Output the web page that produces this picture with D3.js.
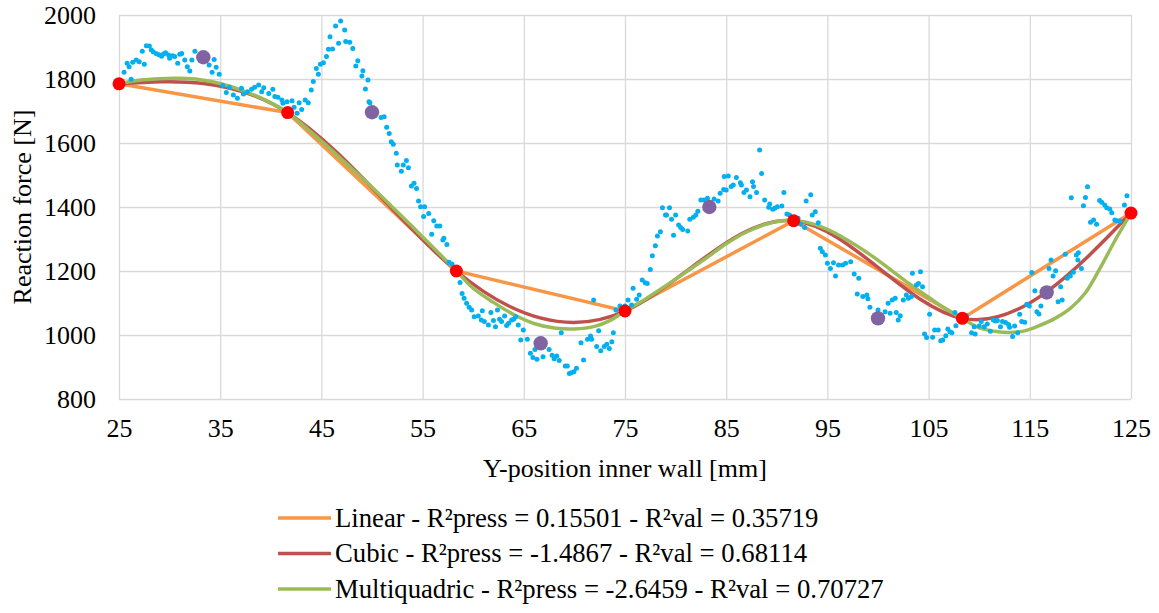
<!DOCTYPE html>
<html>
<head>
<meta charset="utf-8" />
<title>Reaction force vs Y-position</title>
<script src="https://cdnjs.cloudflare.com/ajax/libs/d3/7.8.5/d3.min.js"></script>
<style>
html, body {
	margin: 0;
	background: #fff;
}
svg text {
	font-family: "Liberation Serif", "Times New Roman", "DejaVu Serif", serif !important;
	fill: #000;
}
.grid line { stroke: #d9d9d9; stroke-width: 1.3px; }
.grid path { display: none; }
</style>
</head>
<body>
<svg id="chart" width="1159" height="613"></svg>
<script>

var FONT = '"Liberation Serif", "Times New Roman", serif';

// ticks
var xTicks = [25, 35, 45, 55, 65, 75, 85, 95, 105, 115, 125];
var yTicks = [800, 1000, 1200, 1400, 1600, 1800, 2000];

// training nodes (red) and validation points (purple)
var nodeX = [25, 41.667, 58.333, 75, 91.667, 108.333, 125];
var nodeY = [1785, 1695, 1200, 1075, 1357, 1052, 1381];
var valX = [33.333, 50, 66.667, 83.333, 100, 116.667];
var valY = [1868, 1696, 974, 1400, 1052, 1133];

// multiquadric surrogate
var mqX = [25, 27, 29, 31, 33, 35, 37, 39, 41.667, 44, 46, 48, 50, 52, 54, 56, 58.333,
  60, 62, 64, 66, 68, 70, 72, 73.5, 75, 77, 79, 81, 83, 85, 87, 89, 90.5, 91.667,
  93, 95, 97, 99, 101, 103, 105, 106.5, 108.333, 110, 111.5, 113, 114.5, 116, 117.5,
  119, 120.5, 122, 123.5, 125];
var mqY = [1785, 1796, 1801, 1802, 1798, 1786, 1766, 1741, 1695, 1634, 1578, 1520, 1462, 1400, 1338, 1275, 1200,
  1146, 1102, 1064, 1036, 1022, 1019, 1027, 1045, 1075, 1112, 1153, 1196, 1240, 1285, 1322, 1347, 1357, 1357,
  1352, 1330, 1296, 1256, 1210, 1162, 1118, 1085, 1052, 1022, 1012, 1008, 1013, 1030, 1052,
  1083, 1132, 1212, 1300, 1381];

// measured reaction force (blue dots)
var measured = [
  [25.5,1821],[25.8,1849],[26.0,1838],[26.2,1799],[26.35,1852],[26.7,1859],[27.0,1854],[27.3,1887],[27.5,1846],
  [27.7,1904],[28.0,1903],[28.2,1891],[28.4,1884],[28.7,1879],[28.95,1876],[29.2,1871],[29.4,1878],[29.6,1882],
  [29.9,1875],[30.0,1865],[30.3,1873],[30.5,1870],[30.8,1849],[31.0,1877],[31.2,1880],[31.5,1859],[31.75,1838],
  [32.0,1825],[32.2,1859],[32.5,1887],[33.0,1875],[33.6,1862],[33.9,1844],[34.2,1821],[34.4,1861],[34.6,1837],
  [34.9,1815],[35.25,1780],[35.6,1758],[35.9,1774],[36.3,1750],[36.7,1740],[37.1,1771],[37.3,1753],[37.7,1760],
  [38.1,1768],[38.4,1774],[38.8,1781],[39.1,1760],[39.3,1773],[39.8,1755],[40.2,1768],[40.4,1745],[40.7,1743],
  [41.1,1734],[41.2,1724],[41.6,1729],[42.1,1732],[42.3,1712],[42.6,1693],[42.8,1726],[43.05,1705],[43.4,1734],
  [43.7,1726],[44.0,1766],[44.2,1792],[44.5,1833],[44.7,1815],[44.9,1846],[45.2,1851],[45.5,1870],[45.7,1893],
  [45.85,1932],[46.1,1894],[46.4,1966],[46.7,1912],[46.9,1981],[47.3,1953],[47.4,1917],[47.8,1915],[48.1,1895],
  [48.4,1841],[48.6,1857],[49.0,1809],[49.1,1826],[49.35,1769],[49.6,1797],[49.7,1729],[49.8,1726],
  [50.9,1680],[51.2,1682],[51.45,1649],[51.7,1630],[51.9,1604],[52.1,1596],[52.4,1568],[52.5,1531],[52.9,1512],
  [53.1,1531],[53.4,1545],[53.6,1523],[53.9,1466],[54.15,1474],[54.4,1458],[54.6,1419],[54.8,1401],[55.1,1370],
  [55.2,1401],[55.6,1380],[55.9,1315],[56.1,1357],[56.4,1341],[56.7,1341],[57.0,1297],[57.1,1302],[57.4,1283],
  [57.6,1227],[57.9,1222],[58.7,1164],[58.9,1130],[59.1,1115],[59.35,1099],[59.6,1087],[59.85,1078],[60.1,1057],
  [60.5,1059],[60.8,1047],[60.9,1076],[61.1,1042],[61.5,1031],[61.75,1070],[62.0,1045],[62.2,1026],[62.4,1078],
  [62.6,1049],[62.8,1042],[63.1,1059],[63.3,1030],[63.5,1037],[63.8,1047],[64.0,1049],[64.2,1057],[64.45,1031],
  [64.7,984],[64.95,1016],[65.35,987],[65.65,943],[65.9,930],[66.1,955],[66.3,924],[66.9,932],[67.5,955],
  [67.8,937],[68.0,926],[68.25,934],[68.5,920],[68.7,1007],[69.1,903],[69.3,903],[69.5,880],[69.7,882],
  [69.95,885],[70.2,896],[70.65,976],[70.9,922],[71.3,987],[71.6,997],[71.7,987],[71.9,1109],[72.2,964],
  [72.4,1013],[72.6,951],[72.95,964],[73.2,971],[73.45,958],[73.7,979],[73.85,1007],[74.1,1078],[74.5,1091],
  [75.0,1091],[75.3,1109],[75.65,1094],[75.8,1146],[76.15,1112],[76.4,1125],[76.7,1172],[77.0,1163],[77.2,1161],
  [77.5,1205],[77.7,1248],[78.0,1279],[78.2,1309],[78.5,1323],[78.7,1398],[79.0,1375],[79.1,1375],[79.4,1398],
  [79.6,1362],[79.8,1312],[80.0,1375],[80.3,1344],[80.5,1336],[80.7,1330],[81.2,1325],[81.4,1362],[81.75,1368],
  [82.0,1375],[82.2,1387],[82.5,1422],[82.8,1422],[83.15,1427],[83.8,1425],[84.2,1419],[84.4,1443],[84.75,1455],
  [84.8,1495],[85.0,1453],[85.2,1497],[85.5,1464],[85.7,1469],[86.0,1492],[86.4,1476],[86.5,1469],[86.75,1445],
  [87.0,1453],[87.35,1432],[87.6,1479],[87.7,1464],[88.0,1445],[88.3,1578],[88.5,1505],[88.8,1422],[89.2,1399],
  [89.3,1409],[89.6,1393],[89.8,1396],[90.05,1401],[90.5,1403],[90.7,1445],[91.0,1378],[91.25,1375],[92.1,1365],
  [92.35,1347],[92.75,1336],[92.9,1419],[93.35,1438],[93.5,1375],[93.8,1385],[94.1,1351],[94.3,1271],[94.5,1260],
  [94.8,1250],[95.0,1224],[95.3,1208],[95.6,1226],[95.8,1184],[96.1,1219],[96.5,1219],[96.8,1224],[97.3,1229],
  [97.65,1191],[97.95,1128],[98.1,1177],[98.5,1120],[98.9,1125],[99.0,1113],[99.2,1087],
  [100.0,1078],[100.7,1073],[101.0,1099],[101.2,1068],[101.4,1109],[101.7,1115],[101.8,1070],[102.0,1047],
  [102.2,1060],[102.5,1109],[102.8,1125],[103.0,1115],[103.3,1120],[103.4,1193],[103.8,1156],[104.0,1161],
  [104.2,1198],[104.4,1151],[104.6,1003],[104.8,992],[105.1,1065],[105.4,993],[105.6,1016],[105.95,1016],
  [106.2,982],[106.4,984],[106.7,998],[106.9,1019],[107.1,1010],[107.3,1007],[107.6,1070],[107.7,1029],
  [108.75,1060],[109.25,1007],[109.5,1026],[109.6,1003],[110.0,1028],[110.2,1042],[110.5,1026],[110.8,1034],
  [111.1,1012],[111.4,1047],[111.6,1044],[111.8,1045],[112.1,1026],[112.3,1042],[112.6,1039],[112.9,1033],
  [113.0,1024],[113.3,995],[113.5,1028],[113.8,1007],[114.0,1065],[114.2,1042],[114.5,1040],[114.7,1096],
  [114.95,1091],[115.2,1195],[115.5,1138],[115.7,1073],[115.9,1066],[116.1,1091],[116.9,1208],[117.1,1234],
  [117.3,1184],[117.55,1201],[117.8,1104],[118.05,1151],[118.2,1109],[118.5,1252],[118.7,1177],[119.0,1184],
  [119.1,1429],[119.3,1196],[119.6,1250],[119.75,1234],[119.8,1257],[120.1,1208],[120.3,1404],[120.5,1430],
  [120.7,1463],[121.0,1352],[121.3,1359],[121.6,1346],[121.9,1420],[122.1,1415],[122.4,1406],[122.6,1398],
  [122.9,1394],[123.1,1382],[123.4,1359],[123.6,1357],[123.9,1356],[124.35,1406],[124.6,1435]
];

var legendLabels = [
  "Linear - R\u00B2press = 0.15501 - R\u00B2val = 0.35719",
  "Cubic - R\u00B2press = -1.4867 - R\u00B2val = 0.68114",
  "Multiquadric - R\u00B2press = -2.6459 - R\u00B2val = 0.70727"
];
var lineColors = ["#f79646", "#c0504d", "#9bbb59"];

var margin = {left: 119, top: 15};
var w = 1012, h = 384;

var svg = d3.select("#chart");
var g = svg.append("g").attr("transform", "translate(" + margin.left + "," + margin.top + ")");

var x = d3.scaleLinear().domain([25, 125]).range([0, w]);
var y = d3.scaleLinear().domain([800, 2000]).range([h, 0]);

// grid + tick labels
g.append("g").attr("class", "grid")
  .attr("transform", "translate(0," + h + ")")
  .call(d3.axisBottom(x).tickValues(xTicks).tickSize(-h).tickSizeOuter(0).tickPadding(20));
g.append("g").attr("class", "grid")
  .call(d3.axisLeft(y).tickValues(yTicks).tickSize(-w).tickSizeOuter(0).tickPadding(23).tickFormat(d3.format("d")));
g.selectAll(".grid").attr("font-family", FONT).attr("font-size", 26);
svg.selectAll(".grid text").attr("fill", "#000");

// axis titles
svg.append("text")
  .attr("x", margin.left + w / 2).attr("y", 477)
  .attr("text-anchor", "middle").attr("font-family", FONT).attr("font-size", 26)
  .text("Y-position inner wall [mm]");
svg.append("text")
  .attr("transform", "translate(31," + (margin.top + h / 2) + ") rotate(-90)")
  .attr("text-anchor", "middle").attr("font-family", FONT).attr("font-size", 26)
  .text("Reaction force [N]");

var nodes = nodeX.map(function(d, i) { return [d, nodeY[i]]; });
var mq = mqX.map(function(d, i) { return [d, mqY[i]]; });

var line = d3.line().x(function(d) { return x(d[0]); }).y(function(d) { return y(d[1]); });

g.append("path").datum(nodes)
  .attr("fill", "none").attr("stroke", lineColors[0]).attr("stroke-width", 3.5)
  .attr("d", line.curve(d3.curveLinear));
g.append("path").datum(nodes)
  .attr("fill", "none").attr("stroke", lineColors[1]).attr("stroke-width", 3.5)
  .attr("d", line.curve(d3.curveNatural));
g.append("path").datum(mq)
  .attr("fill", "none").attr("stroke", lineColors[2]).attr("stroke-width", 3.5)
  .attr("d", line.curve(d3.curveCatmullRom.alpha(0.5)));

g.selectAll(".meas").data(measured).enter().append("circle")
  .attr("cx", function(d) { return x(d[0]); })
  .attr("cy", function(d) { return y(d[1]); })
  .attr("r", 2.5).attr("fill", "#00b0f0");

g.selectAll(".val").data(valX).enter().append("circle")
  .attr("cx", function(d) { return x(d); })
  .attr("cy", function(d, i) { return y(valY[i]); })
  .attr("r", 7.2).attr("fill", "#8064a2");

g.selectAll(".node").data(nodes).enter().append("circle")
  .attr("cx", function(d) { return x(d[0]); })
  .attr("cy", function(d) { return y(d[1]); })
  .attr("r", 6.5).attr("fill", "#ff0000");

// legend
var leg = svg.append("g").selectAll("g").data(legendLabels).enter().append("g")
  .attr("transform", function(d, i) { return "translate(278," + (518 + i * 35.5) + ")"; });
leg.append("line").attr("x1", 0).attr("x2", 53)
  .attr("stroke", function(d, i) { return lineColors[i]; }).attr("stroke-width", 3.5);
leg.append("text").attr("x", 57).attr("y", 8.5)
  .attr("font-family", FONT).attr("font-size", 26.7)
  .text(function(d) { return d; });

</script>
</body>
</html>
